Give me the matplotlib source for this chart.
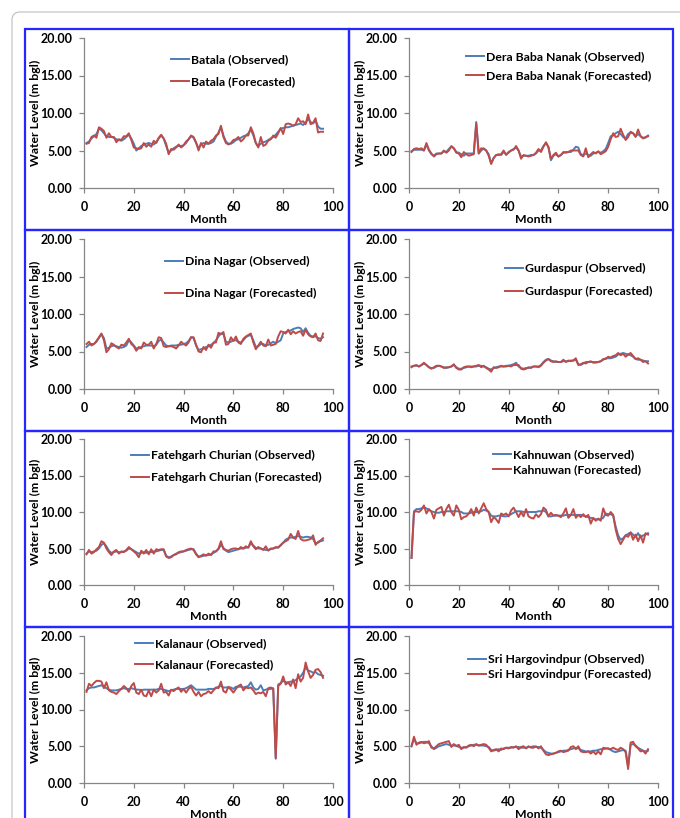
import matplotlib
matplotlib.use("Agg")
import matplotlib.pyplot as plt
from matplotlib.patches import FancyBboxPatch, Rectangle
from matplotlib.ticker import FormatStrFormatter
import numpy as np

plt.rcParams['font.family'] = ['Lato', 'DejaVu Sans']
plt.rcParams['font.weight'] = 'bold'

W, H = 680, 818

batala_obs = [6.0, 6.2, 6.6, 6.9, 7.2, 7.9, 7.7, 7.3, 6.9, 6.8,
              6.8, 6.7, 6.5, 6.4, 6.3, 6.5, 6.8, 7.1, 6.6, 5.9,
              5.0, 5.3, 5.6, 5.8, 5.9, 6.0, 5.9, 5.8, 6.1, 6.6,
              7.0, 6.6, 5.6, 4.7, 5.0, 5.3, 5.5, 5.6, 5.6, 5.7,
              6.0, 6.5, 6.9, 6.7, 6.0, 5.3, 5.8, 6.0, 5.9, 5.9,
              6.0, 6.2, 6.8, 7.4, 8.1, 7.0, 6.2, 5.9, 5.9, 6.1,
              6.4, 6.5, 6.7, 6.9, 7.0, 7.3, 7.8, 7.0, 6.0, 5.6,
              5.9, 6.1, 6.2, 6.4, 6.6, 6.8, 7.1, 7.5, 7.9, 8.0,
              8.1, 8.1, 8.2, 8.3, 8.4, 8.5, 8.6, 8.4, 8.7, 9.2,
              8.8, 8.6, 9.0, 8.2, 7.9, 7.9]
batala_fc = [5.9, 6.0, 6.8, 7.0, 6.7, 8.1, 7.9, 7.6, 6.7, 7.3,
             6.8, 6.8, 6.1, 6.5, 6.4, 6.9, 6.9, 7.3, 6.4, 5.4,
             5.3, 5.2, 5.3, 6.0, 5.5, 5.8, 5.5, 6.3, 6.0, 6.7,
             7.1, 6.6, 5.9, 4.5, 5.2, 5.1, 5.4, 5.8, 5.4, 5.7,
             6.2, 6.5, 7.0, 6.8, 6.1, 5.0, 6.0, 5.4, 6.2, 5.9,
             6.3, 6.5, 7.0, 7.2, 8.3, 6.8, 6.0, 5.8, 6.0, 6.4,
             6.5, 6.8, 6.2, 6.5, 7.0, 7.0, 8.1, 7.3, 6.0, 5.4,
             6.8, 5.6, 5.8, 6.3, 6.5, 7.0, 6.7, 7.3, 8.0, 7.2,
             8.5, 8.6, 8.5, 8.3, 8.5, 9.3, 8.8, 8.9, 8.5, 9.8,
             8.5, 8.7, 9.3, 7.4, 7.5, 7.5]

dera_obs = [4.9, 5.1, 5.1, 5.1, 5.1, 5.0, 5.8, 5.0, 4.5, 4.3,
            4.6, 4.6, 4.6, 4.9, 4.8, 5.2, 5.5, 5.3, 4.8, 4.7,
            4.5, 4.3, 4.6, 4.6, 4.6, 4.6, 8.8, 4.6, 5.0, 5.3,
            5.0, 4.5, 3.3, 4.0, 4.4, 4.5, 4.4, 4.8, 4.5, 4.7,
            5.0, 5.2, 5.4, 5.0, 4.2, 4.3, 4.3, 4.3, 4.4, 4.4,
            4.6, 5.0, 5.0, 5.6, 6.0, 5.5, 3.7, 4.3, 4.5, 4.2,
            4.4, 4.7, 4.8, 4.8, 4.8, 5.1, 5.5, 5.4, 4.5, 4.4,
            4.6, 4.4, 4.3, 4.6, 4.7, 4.8, 4.7, 4.9, 5.2, 6.0,
            6.9, 7.0, 7.3, 7.5, 7.2, 6.8, 6.6, 7.2, 7.4, 7.3,
            6.9, 7.2, 6.9, 6.7, 6.7, 7.0]
dera_fc = [4.8, 5.2, 5.3, 5.2, 5.3, 5.0, 6.0, 5.1, 4.6, 4.2,
           4.5, 4.6, 4.6, 5.0, 4.7, 5.0, 5.6, 5.3, 4.7, 4.6,
           4.1, 4.8, 4.5, 4.3, 4.4, 4.5, 8.6, 4.6, 5.3, 5.2,
           5.0, 4.3, 3.2, 4.0, 4.4, 4.4, 4.5, 5.0, 4.4, 4.8,
           5.0, 5.1, 5.6, 5.0, 3.9, 4.4, 4.3, 4.2, 4.3, 4.4,
           4.7, 5.2, 4.8, 5.5, 6.1, 5.4, 3.9, 4.4, 4.7, 4.2,
           4.4, 4.8, 4.7, 4.8, 5.0, 5.0, 5.0, 5.0, 4.4, 4.2,
           5.3, 4.1, 4.5, 4.8, 4.6, 4.9, 4.5, 4.7, 4.9, 5.5,
           6.5, 7.3, 6.8, 6.9, 7.9, 7.1, 6.4, 6.8, 7.5, 7.3,
           6.8, 7.8, 6.9, 6.6, 6.8, 6.9]

dina_obs = [5.6, 5.9, 6.0, 6.0, 6.3, 6.8, 7.3, 6.8, 5.4, 5.5,
            5.7, 5.8, 5.7, 5.6, 5.5, 5.6, 5.8, 6.5, 6.2, 5.8,
            5.4, 5.4, 5.6, 5.7, 5.8, 5.8, 5.8, 5.7, 5.9, 6.4,
            6.6, 6.2, 5.8, 5.7, 5.8, 5.8, 5.8, 5.9, 5.9, 6.0,
            6.1, 6.4, 6.9, 6.8, 5.8, 5.2, 5.3, 5.4, 5.6, 5.7,
            5.9, 6.1, 6.5, 7.0, 7.4, 7.3, 6.3, 6.2, 6.3, 6.5,
            6.5, 6.3, 6.2, 6.5, 6.9, 7.1, 7.2, 6.5, 5.6, 5.7,
            6.0, 6.0, 5.8, 5.9, 6.1, 6.3, 6.1, 6.3, 6.5, 7.4,
            7.6, 7.7, 7.8, 8.0, 8.1, 8.2, 8.1, 7.6, 8.1, 7.5,
            7.1, 7.0, 7.0, 6.8, 6.7, 6.9]
dina_fc = [6.0, 6.3, 5.8, 6.0, 6.4, 6.9, 7.4, 6.5, 4.9, 5.3,
           6.1, 5.9, 5.6, 5.4, 5.9, 5.8, 6.2, 6.7, 6.0, 5.7,
           5.1, 5.6, 5.4, 6.2, 5.9, 5.9, 6.3, 5.4, 6.0, 6.9,
           6.8, 5.7, 5.6, 5.7, 5.7, 5.6, 5.4, 5.8, 6.3, 6.0,
           5.8, 6.2, 6.9, 6.9, 5.9, 5.0, 4.9, 5.6, 5.2, 5.9,
           5.5, 6.2, 6.2, 7.5, 7.3, 7.6, 5.9, 6.0, 6.9, 6.4,
           7.0, 6.2, 6.0, 6.7, 7.0, 7.2, 7.4, 6.2, 5.3, 5.8,
           6.3, 5.8, 5.7, 6.6, 5.8, 5.9, 6.0, 7.0, 7.7, 7.6,
           7.4, 7.9, 7.3, 7.7, 7.4, 7.6, 7.7, 7.1, 7.9, 7.3,
           7.0, 6.9, 7.4, 6.5, 6.4, 7.4]

gurdaspur_obs = [2.9, 3.1, 3.1, 3.0, 3.2, 3.4, 3.2, 2.9, 2.8, 2.8,
                 3.0, 3.1, 3.0, 2.9, 2.8, 2.9, 3.0, 3.2, 2.9, 2.7,
                 2.7, 2.8, 2.9, 3.0, 3.0, 3.0, 3.0, 3.1, 3.1, 3.0,
                 2.9, 2.7, 2.6, 2.8, 2.9, 3.0, 3.0, 3.0, 3.1, 3.1,
                 3.2, 3.3, 3.5, 3.0, 2.8, 2.7, 2.8, 2.8, 2.9, 3.0,
                 3.0, 3.0, 3.2, 3.6, 3.9, 4.0, 3.8, 3.7, 3.6, 3.6,
                 3.6, 3.7, 3.7, 3.7, 3.8, 3.8, 3.9, 3.3, 3.2, 3.4,
                 3.6, 3.6, 3.6, 3.6, 3.5, 3.6, 3.7, 3.9, 4.1, 4.1,
                 4.1, 4.2, 4.3, 4.6, 4.7, 4.8, 4.7, 4.6, 4.5, 4.3,
                 4.0, 3.9, 3.9, 3.8, 3.7, 3.7]
gurdaspur_fc = [3.0, 3.1, 3.2, 3.0, 3.2, 3.5, 3.2, 2.9, 2.7, 2.9,
                3.1, 3.1, 3.0, 2.8, 2.9, 2.9, 3.0, 3.3, 2.8, 2.6,
                2.6, 2.9, 3.0, 3.0, 2.9, 3.0, 3.1, 3.2, 2.9, 3.1,
                2.8, 2.6, 2.3, 2.9, 2.8, 2.9, 3.1, 3.0, 3.0, 3.1,
                3.0, 3.2, 3.2, 3.2, 2.7, 2.6, 2.7, 2.9, 2.8, 3.0,
                3.0, 2.9, 3.1, 3.5, 3.8, 4.0, 3.7, 3.6, 3.7, 3.6,
                3.6, 3.9, 3.6, 3.8, 3.7, 3.8, 4.1, 3.2, 3.3, 3.5,
                3.4, 3.6, 3.7, 3.5, 3.6, 3.6, 3.7, 4.0, 4.0, 4.3,
                4.2, 4.4, 4.5, 4.8, 4.5, 4.7, 4.3, 4.6, 4.8, 4.4,
                4.0, 4.1, 3.9, 3.6, 3.7, 3.4]

fatehgarh_obs = [4.3, 4.6, 4.5, 4.6, 4.7, 5.0, 5.5, 5.7, 5.3, 4.7,
                 4.4, 4.5, 4.6, 4.5, 4.5, 4.6, 4.7, 5.0, 4.9, 4.7,
                 4.5, 4.3, 4.4, 4.5, 4.4, 4.5, 4.5, 4.6, 4.6, 4.7,
                 4.8, 4.8, 4.0, 3.8, 3.9, 4.1, 4.3, 4.4, 4.5, 4.6,
                 4.7, 4.8, 4.9, 4.9, 4.3, 3.9, 3.9, 4.0, 4.1, 4.1,
                 4.2, 4.4, 4.6, 4.9, 5.5, 5.1, 4.7, 4.5, 4.6, 4.7,
                 4.8, 4.9, 5.0, 5.0, 5.1, 5.2, 5.7, 5.4, 5.1, 5.0,
                 5.0, 4.9, 4.8, 4.8, 4.9, 5.0, 5.1, 5.2, 5.4, 5.8,
                 6.2, 6.4, 6.5, 6.5, 6.6, 6.7, 6.6, 6.5, 6.6, 6.6,
                 6.5, 6.3, 5.7, 5.8, 6.0, 6.1]
fatehgarh_fc = [4.2, 4.8, 4.3, 4.5, 4.9, 5.2, 6.0, 5.8, 5.0, 4.5,
                4.1, 4.6, 4.8, 4.3, 4.6, 4.5, 4.8, 5.2, 4.9, 4.6,
                4.3, 3.8, 4.7, 4.3, 4.8, 4.2, 4.9, 4.3, 4.9, 4.8,
                4.9, 4.9, 3.9, 3.7, 3.8, 4.1, 4.2, 4.5, 4.6, 4.6,
                4.8, 4.9, 5.0, 4.8, 4.2, 3.8, 4.0, 4.2, 4.0, 4.3,
                4.1, 4.6, 4.6, 5.0, 6.0, 4.9, 4.8, 4.7, 4.9, 5.0,
                5.0, 4.9, 5.2, 5.0, 5.3, 5.1, 6.0, 5.3, 4.9, 5.2,
                5.0, 4.8, 5.3, 4.7, 5.0, 5.0, 5.2, 5.1, 5.5, 5.8,
                6.0, 6.2, 7.0, 6.5, 6.3, 7.4, 6.3, 6.1, 6.1, 6.2,
                6.3, 6.8, 5.5, 5.9, 6.1, 6.4]

kahnuwan_obs = [3.7, 10.1, 10.4, 10.4, 10.5, 10.6, 10.5, 10.3, 10.1, 10.0,
                9.9, 9.9, 10.0, 10.0, 10.1, 10.1, 10.1, 10.1, 10.1, 10.1,
                10.0, 9.8, 9.8, 9.8, 9.9, 10.0, 10.0, 10.0, 10.1, 10.3,
                10.2, 10.0, 9.5, 9.4, 9.4, 9.5, 9.5, 9.4, 9.4, 9.5,
                9.7, 9.9, 10.1, 10.1, 10.1, 10.0, 10.0, 10.0, 10.0, 10.0,
                10.0, 10.1, 10.1, 10.2, 10.0, 9.4, 9.4, 9.5, 9.5, 9.5,
                9.5, 9.5, 9.6, 9.6, 9.6, 9.6, 9.6, 9.6, 9.6, 9.5,
                9.4, 9.3, 9.2, 9.1, 9.0, 9.0, 9.0, 9.2, 9.8, 9.7,
                9.7, 9.5, 8.0, 6.8, 6.2, 6.4, 6.8, 7.0, 7.2, 6.9,
                6.6, 7.1, 6.5, 6.8, 6.9, 7.1]
kahnuwan_fc = [3.7, 10.0, 10.1, 10.0, 10.3, 10.9, 9.8, 10.4, 10.0, 9.1,
               10.3, 10.5, 10.7, 9.5, 10.4, 11.0, 10.0, 9.5, 10.9, 10.3,
               9.0, 9.3, 9.4, 9.8, 10.4, 9.5, 10.6, 9.8, 10.5, 11.2,
               10.4, 10.0, 8.6, 9.3, 9.0, 8.5, 9.8, 9.6, 9.8, 9.4,
               10.2, 10.6, 10.0, 9.3, 10.0, 9.4, 10.4, 9.4, 9.2, 9.1,
               9.7, 9.3, 9.7, 10.6, 10.3, 9.4, 9.9, 9.5, 9.6, 9.5,
               9.3, 9.8, 10.5, 9.2, 9.6, 10.4, 9.2, 9.6, 9.3, 9.7,
               9.3, 9.6, 8.4, 9.2, 8.8, 9.1, 8.8, 10.5, 9.6, 9.5,
               10.0, 9.6, 7.6, 6.3, 5.6, 6.2, 6.8, 6.6, 7.2, 6.2,
               6.9, 6.0, 6.8, 5.8, 7.1, 6.9]

kalanaur_obs = [12.6, 12.9, 13.0, 13.0, 13.1, 13.2, 13.3, 13.1, 12.9, 12.7,
                12.6, 12.6, 12.6, 12.7, 12.8, 12.9, 12.8, 12.8, 12.9, 12.8,
                12.7, 12.7, 12.6, 12.7, 12.7, 12.7, 12.7, 12.7, 12.7, 12.8,
                12.8, 12.7, 12.6, 12.5, 12.6, 12.7, 12.8, 12.8, 12.8, 12.8,
                12.9, 13.1, 13.3, 13.0, 12.7, 12.7, 12.7, 12.7, 12.7, 12.8,
                12.8, 12.8, 12.9, 13.1, 13.2, 13.0, 13.0, 13.0, 13.0, 12.8,
                13.1, 13.1, 13.1, 13.0, 13.1, 13.2, 13.7, 13.0, 12.7, 12.8,
                13.3, 12.6, 12.7, 12.8, 12.8, 12.9, 3.3, 13.4, 13.6, 13.9,
                13.7, 13.7, 13.8, 13.8, 14.0, 14.3, 14.5, 15.0, 15.7, 15.3,
                15.2, 15.0, 15.1, 14.8, 14.7, 14.6]
kalanaur_fc = [12.4, 13.5, 13.2, 13.6, 13.9, 13.9, 13.8, 12.9, 13.7, 12.6,
               12.4, 12.3, 12.1, 12.5, 12.8, 13.2, 12.9, 12.4, 13.2, 13.6,
               12.3, 12.1, 12.7, 11.9, 11.8, 12.6, 11.8, 12.7, 12.3, 12.6,
               13.5, 12.3, 12.4, 11.9, 12.7, 12.5, 12.8, 13.0, 12.4, 12.8,
               12.3, 12.8, 13.1, 12.4, 11.9, 12.4, 11.8, 12.1, 12.2, 12.5,
               12.2, 12.6, 13.0, 12.9, 13.8, 12.5, 12.3, 13.1, 12.7, 12.3,
               12.8, 13.2, 13.4, 12.6, 13.0, 12.9, 13.0, 12.6, 12.1, 12.3,
               12.2, 12.4, 11.8, 12.9, 13.0, 12.8, 3.4, 13.2, 13.5, 14.5,
               13.4, 13.7, 13.2, 14.1, 12.9, 14.8, 13.8, 14.3, 16.4, 15.2,
               14.3, 14.7, 15.4, 15.5, 15.1, 14.3]

sri_obs = [5.0, 6.0, 5.4, 5.4, 5.5, 5.6, 5.6, 5.4, 5.0, 4.6,
           4.8, 5.0, 5.1, 5.2, 5.3, 5.2, 5.1, 5.1, 5.1, 4.9,
           4.8, 4.8, 4.9, 5.0, 5.1, 5.2, 5.2, 5.1, 5.1, 5.1,
           5.0, 4.9, 4.5, 4.4, 4.5, 4.6, 4.5, 4.7, 4.8, 4.8,
           4.8, 4.9, 4.9, 4.9, 4.8, 4.8, 4.8, 4.9, 4.9, 5.0,
           4.9, 4.9, 4.8, 4.5, 4.2, 4.1, 4.0, 4.0, 4.1, 4.2,
           4.3, 4.4, 4.4, 4.5, 4.6, 4.7, 4.8, 4.7, 4.5, 4.4,
           4.3, 4.3, 4.3, 4.4, 4.4, 4.5, 4.6, 4.6, 4.7, 4.7,
           4.5, 4.3, 4.2, 4.3, 4.4, 4.5, 4.4, 2.3, 5.2, 5.3,
           5.1, 4.8, 4.6, 4.4, 4.3, 4.4]
sri_fc = [5.0, 6.3, 5.2, 5.5, 5.6, 5.4, 5.5, 5.7, 4.8, 4.7,
          5.0, 5.3, 5.4, 5.5, 5.6, 5.7, 4.9, 5.3, 5.0, 5.2,
          4.6, 4.9, 4.8, 5.1, 5.2, 5.0, 5.3, 5.1, 5.2, 5.3,
          5.2, 4.8, 4.3, 4.5, 4.6, 4.3, 4.7, 4.6, 4.8, 4.7,
          4.9, 4.8, 5.0, 4.6, 4.9, 5.0, 4.7, 5.0, 4.8, 4.8,
          5.0, 4.7, 5.0, 4.4, 3.9, 3.8, 3.9, 4.0, 4.1, 4.3,
          4.4, 4.2, 4.3, 4.4, 4.9, 5.0, 4.6, 5.0, 4.3, 4.2,
          4.2, 4.3, 4.0, 4.3, 3.9, 4.3, 3.9, 4.8, 4.7, 4.7,
          4.6, 4.8, 4.6, 4.5, 4.8, 4.6, 4.2, 1.9, 5.5, 5.6,
          5.0, 4.7, 4.3, 4.4, 4.0, 4.6]

stations = ['Batala', 'Dera Baba Nanak', 'Dina Nagar', 'Gurdaspur',
            'Fatehgarh Churian', 'Kahnuwan', 'Kalanaur', 'Sri Hargovindpur']
observed = [batala_obs, dera_obs, dina_obs, gurdaspur_obs,
            fatehgarh_obs, kahnuwan_obs, kalanaur_obs, sri_obs]
forecasted = [batala_fc, dera_fc, dina_fc, gurdaspur_fc,
              fatehgarh_fc, kahnuwan_fc, kalanaur_fc, sri_fc]

# legend placement in pixels: handle left, first row centre, row pitch
legend_pos = [(171, 59, 23), (466, 56, 20), (165, 261, 33), (505, 268, 24),
              (131, 455, 23), (493, 454, 16), (135, 643, 22), (468, 659, 16)]

BLUE = '#4a7ebb'
RED = '#be4b48'
GRAY = '#868686'
FS = 9          # ticks
LFS = 8.8       # axis labels and legend

fig = plt.figure(figsize=(W / 100, H / 100), dpi=100)

# light outer frame (runs off the right and bottom of the picture)
fig.patches.append(FancyBboxPatch((0.12, -0.5), 7.2, 8.56,
                                  boxstyle="round,pad=0,rounding_size=0.08",
                                  transform=fig.dpi_scale_trans, fill=False,
                                  edgecolor='#c4c4c4', linewidth=0.9))

# blue panel borders
col_edges = [25, 349, 673]
row_edges = [29, 230, 431, 627, 840]
for r in range(4):
    for c in range(2):
        x0, x1 = col_edges[c], col_edges[c + 1]
        y0, y1 = row_edges[r], row_edges[r + 1]
        fig.patches.append(Rectangle((x0 / 100, (H - y1) / 100), (x1 - x0) / 100, (y1 - y0) / 100,
                                     transform=fig.dpi_scale_trans, fill=False,
                                     edgecolor='#2626ff', linewidth=1.6))

ax_cols = [(84, 333), (409, 658)]
ax_rows = [(38, 188), (239, 389), (439, 585), (636, 783)]

for i, name in enumerate(stations):
    r, c = divmod(i, 2)
    xl, xr = ax_cols[c]
    yt, yb = ax_rows[r]
    ax = fig.add_axes([xl / W, 1 - yb / H, (xr - xl) / W, (yb - yt) / H])
    obs = observed[i]
    fc = forecasted[i]
    ax.plot(np.arange(1, len(obs) + 1), obs, color=BLUE, lw=1.4, label=f'{name} (Observed)')
    ax.plot(np.arange(1, len(fc) + 1), fc, color=RED, lw=1.4, label=f'{name} (Forecasted)')

    ax.set_xlim(0, 100)
    ax.set_ylim(0, 20)
    ax.set_xticks(range(0, 101, 20))
    ax.set_yticks(range(0, 21, 5))
    ax.yaxis.set_major_formatter(FormatStrFormatter('%.2f'))
    ax.spines['top'].set_visible(False)
    ax.spines['right'].set_visible(False)
    for s in ['left', 'bottom']:
        ax.spines[s].set_color(GRAY)
        ax.spines[s].set_linewidth(0.9)
    ax.tick_params(color=GRAY, length=3.5, width=0.9, labelsize=FS)
    ax.tick_params(axis='x', pad=6)
    ax.tick_params(axis='y', pad=5)
    ax.patch.set_alpha(0)

    ax.set_xlabel('Month', fontsize=LFS, fontweight='bold')
    ax.set_ylabel('Water Level (m bgl)', fontsize=LFS, fontweight='bold')
    h = yb - yt
    ax.yaxis.set_label_coords(-43 / (xr - xl), 0.5)
    ax.xaxis.set_label_coords(0.5, -26 / h)

    lx, ly, pitch = legend_pos[i]
    fs_px = LFS * 100 / 72
    ax.legend(loc='upper left', bbox_to_anchor=(lx / W, 1 - (ly - 5) / H),
              bbox_transform=fig.transFigure, frameon=False, fontsize=LFS,
              handlelength=1.5, handletextpad=0.1, borderpad=0, borderaxespad=0,
              labelspacing=max((pitch - 0.98 * fs_px) / fs_px, 0.05))

fig.savefig('out.png', dpi=100)
